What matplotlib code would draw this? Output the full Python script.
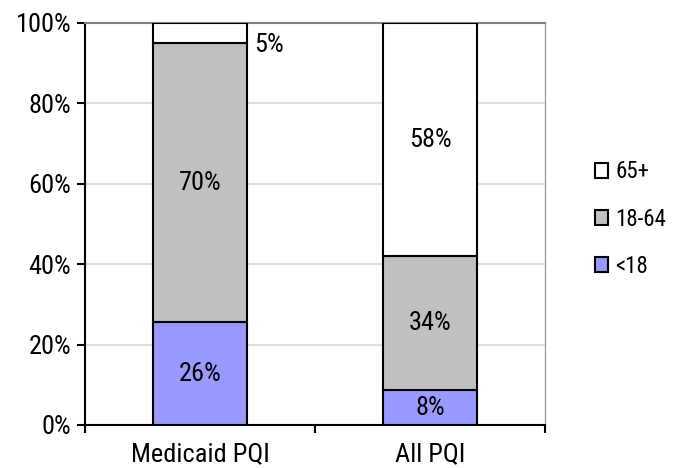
import matplotlib
matplotlib.use("Agg")
import matplotlib.pyplot as plt
import numpy as np
from matplotlib.patches import Patch

categories = ["Medicaid PQI", "All PQI"]
groups = ["<18", "18-64", "65+"]
under18 = [25.6, 8.6]
age18_64 = [69.4, 33.4]
over65 = [5.0, 58.0]
labels_under18 = ["26%", "8%"]
labels_18_64 = ["70%", "34%"]
labels_over65 = ["5%", "58%"]
colors = ["#9999FF", "#C0C0C0", "#FFFFFF"]

plt.rcParams['font.family'] = ['Roboto Condensed', 'Liberation Sans', 'DejaVu Sans']

fig = plt.figure(figsize=(6.92, 4.68), dpi=100)
ax = fig.add_axes([85 / 692, 43 / 468, 460 / 692, 402 / 468])

x = np.arange(len(categories))
w = 0.41
series = [under18, age18_64, over65]
bottom = np.zeros(len(categories))
for vals, col in zip(series, colors):
    ax.bar(x, vals, w, bottom=bottom, color=col, edgecolor="black", linewidth=1.5, zorder=3)
    bottom += np.array(vals)

fs = 19
for i in range(len(categories)):
    ax.text(x[i], under18[i] / 2, labels_under18[i], ha="center", va="center", fontsize=fs, zorder=4)
    ax.text(x[i], under18[i] + age18_64[i] / 2, labels_18_64[i], ha="center", va="center", fontsize=fs, zorder=4)
# 65+ labels: the small one sits outside the bar
ax.text(x[0] + w / 2 + 0.03, 100 - over65[0] - 0.5, labels_over65[0], ha="left", va="center", fontsize=fs)
ax.text(x[1], under18[1] + age18_64[1] + over65[1] / 2, labels_over65[1], ha="center", va="center", fontsize=fs)

ax.set_xlim(-0.5, 1.5)
ax.set_ylim(0, 100)
ax.set_yticks([0, 20, 40, 60, 80, 100])
ax.set_yticklabels(["0%", "20%", "40%", "60%", "80%", "100%"], fontsize=fs)
ax.set_xticks(x)
ax.set_xticklabels(categories, fontsize=fs)
ax.set_xticks([-0.5, 0.5, 1.5], minor=True)
ax.tick_params(axis="x", which="major", length=0, pad=12)
ax.tick_params(axis="x", which="minor", length=6, width=1.5, direction="out")
ax.tick_params(axis="y", length=6, width=1.5, direction="out", pad=4)

for yv in [20, 40, 60, 80]:
    ax.axhline(yv, color="#E0E0E0", linewidth=1.5, zorder=1)

ax.spines["left"].set_linewidth(1.5)
ax.spines["bottom"].set_linewidth(1.5)
ax.spines["top"].set_color("#808080")
ax.spines["right"].set_color("#A0A0A0")
ax.spines["top"].set_linewidth(1.5)
ax.spines["right"].set_linewidth(1.0)

handles = [Patch(facecolor=c, edgecolor="black", linewidth=1.5) for c in colors]
leg = fig.legend(handles[::-1], groups[::-1], loc="center left", bbox_to_anchor=(574 / 692, (468 - 219) / 468),
                 frameon=False, fontsize=16.5, handlelength=0.6, handleheight=0.6,
                 handletextpad=0.3, labelspacing=1.05)

fig.savefig("out.png", dpi=100)
